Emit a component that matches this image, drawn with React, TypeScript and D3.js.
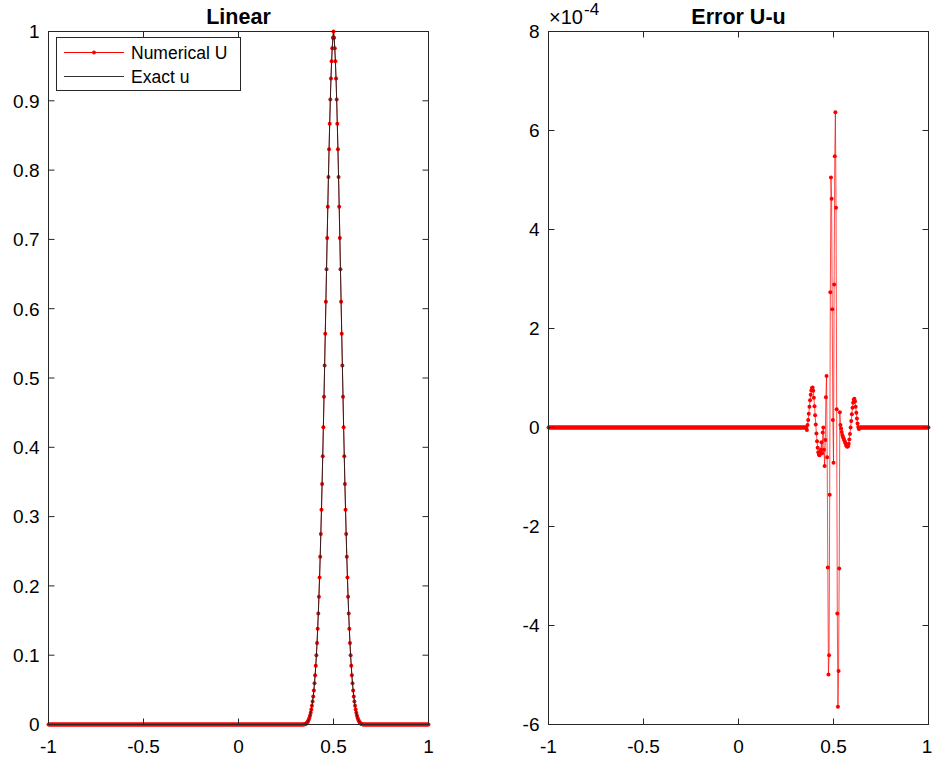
import React from 'react';
import * as d3 from 'd3';

// ---- data ----
const gridIntervals = 600; // grid on [-1, 1]
const peakIndex = 450; // grid index of x = 0.5
// u values, from the peak outwards (symmetric)
const uHalfProfile = [
  1.0, 0.991, 0.976, 0.957, 0.932, 0.902, 0.867, 0.83, 0.79, 0.747, 0.702, 0.657, 0.61, 0.564,
  0.518, 0.473, 0.429, 0.387, 0.347, 0.31, 0.275, 0.242, 0.212, 0.1845, 0.16, 0.138, 0.1175, 0.1,
  0.0848, 0.0712, 0.0597, 0.0491, 0.0405, 0.0332, 0.027, 0.0215, 0.017, 0.013, 0.0098, 0.0072,
  0.0052, 0.0036, 0.0024, 0.0015, 0.0009, 0.0005, 0.0002, 0.0001,
];
// error U-u (units of 1e-4), grid indices starting at errorStart
const errorStart = 407;
const errorCore = [
  0, -0.05, 0.05, 0.15, 0.28, 0.42, 0.55, 0.66, 0.75, 0.8, 0.81, 0.74, 0.6, 0.43, 0.25, 0.06,
  -0.12, -0.28, -0.41, -0.5, -0.55, -0.56, -0.52, -0.45, -0.3, -0.52, -0.1, 0.0, -0.45, -0.78,
  -0.25, 0.61, 1.04, -0.6, -2.83, -4.99, -4.6, -1.36, 2.73, 5.05, 4.62, 2.39, 0.15, -0.71, 2.89,
  5.48, 6.37, 4.44, 0.37, -3.76, -5.64, -4.92, -2.85, 0.31, 0.05, -0.02, -0.09, -0.15, -0.19,
  -0.22, -0.26, -0.29, -0.32, -0.36, -0.38, -0.39, -0.38, -0.33, -0.24, -0.13, 0.0, 0.13, 0.27,
  0.4, 0.5, 0.56, 0.58, 0.53, 0.42, 0.3, 0.18, 0.08, 0.01, -0.03, -0.02, 0,
];

const xTicks = [-1, -0.5, 0, 0.5, 1];
const leftYTicks = [0, 0.1, 0.2, 0.3, 0.4, 0.5, 0.6, 0.7, 0.8, 0.9, 1];
const rightYTicks = [-6, -4, -2, 0, 2, 4, 6, 8];
const titles = ['Linear', 'Error U-u'];
const legendLabels = ['Numerical U', 'Exact u'];

// ---- derived series ----
const xGrid = d3.range(gridIntervals + 1).map((i) => -1 + (2 * i) / gridIntervals);
const uValues = xGrid.map((_, i) => {
  const n = Math.abs(i - peakIndex);
  return n < uHalfProfile.length ? uHalfProfile[n] : 0;
});
const errValues = xGrid.map((_, i) => {
  const k = i - errorStart;
  return k >= 0 && k < errorCore.length ? errorCore[k] : 0;
});

const FONT = '"Liberation Sans", Arial, Helvetica, sans-serif';
const AXC = '#262626';
const TOP = 31.5;
const BOTTOM = 724.5;

type Pt = [number, number];

function Axes({
  x0,
  x1,
  yDomain,
  yTicks,
  title,
}: {
  x0: number;
  x1: number;
  yDomain: [number, number];
  yTicks: number[];
  title: string;
}) {
  const xs = d3.scaleLinear().domain([-1, 1]).range([x0, x1]);
  const ys = d3.scaleLinear().domain(yDomain).range([BOTTOM, TOP]);
  const tl = 6;
  return (
    <g>
      <rect x={x0} y={TOP} width={x1 - x0} height={BOTTOM - TOP} fill="none" stroke={AXC} strokeWidth={1} />
      {xTicks.map((t) => (
        <g key={'x' + t}>
          <line x1={xs(t)} x2={xs(t)} y1={BOTTOM} y2={BOTTOM - tl} stroke={AXC} />
          <line x1={xs(t)} x2={xs(t)} y1={TOP} y2={TOP + tl} stroke={AXC} />
          <text
            x={xs(t) + (t === 1 && x1 > 900 ? -1.5 : 0)}
            y={753}
            textAnchor="middle"
            fontSize={19}
            fontFamily={FONT}
            fill="#000"
          >
            {String(t)}
          </text>
        </g>
      ))}
      {yTicks.map((t) => (
        <g key={'y' + t}>
          <line x1={x0} x2={x0 + tl} y1={ys(t)} y2={ys(t)} stroke={AXC} />
          <line x1={x1} x2={x1 - tl} y1={ys(t)} y2={ys(t)} stroke={AXC} />
          <text
            x={x0 - 9}
            y={ys(t)}
            dy="0.36em"
            textAnchor="end"
            fontSize={19}
            fontFamily={FONT}
            fill="#000"
          >
            {String(t)}
          </text>
        </g>
      ))}
      <text
        x={(x0 + x1) / 2}
        y={24}
        textAnchor="middle"
        fontSize={21.5}
        fontWeight="bold"
        fontFamily={FONT}
        fill="#000"
      >
        {title}
      </text>
    </g>
  );
}

export default function App() {
  const xL = d3.scaleLinear().domain([-1, 1]).range([48.5, 428.5]);
  const yL = d3.scaleLinear().domain([0, 1]).range([BOTTOM, TOP]);
  const xR = d3.scaleLinear().domain([-1, 1]).range([548.5, 928.5]);
  const yR = d3.scaleLinear().domain([-6, 8]).range([BOTTOM, TOP]);

  const uPts: Pt[] = xGrid.map((x, i) => [xL(x), yL(uValues[i])]);
  const ePts: Pt[] = xGrid.map((x, i) => [xR(x), yR(errValues[i])]);
  const line = d3.line<Pt>();

  return (
    <svg
      width={932}
      height={761}
      style={{ position: 'absolute', left: 0, top: 0, background: '#fff' }}
    >
      <rect width={932} height={761} fill="#fff" />
      {/* left panel data */}
      <path d={line(uPts) || ''} fill="none" stroke="#ff0000" strokeWidth={0.8} />
      {uPts.map((p, i) => (
        <circle key={'u' + i} cx={p[0]} cy={p[1]} r={2} fill="#ff0000" />
      ))}
      <path d={line(uPts) || ''} fill="none" stroke="#1a1a1a" strokeWidth={0.9} />
      <Axes x0={48.5} x1={428.5} yDomain={[0, 1]} yTicks={leftYTicks} title={titles[0]} />

      {/* legend */}
      <g>
        <rect x={56.5} y={37.5} width={184} height={53} fill="#fff" stroke={AXC} strokeWidth={1} />
        <line x1={64} x2={124} y1={52.5} y2={52.5} stroke="#ff0000" strokeWidth={1} />
        <circle cx={94} cy={52.5} r={2} fill="#ff0000" />
        <text x={131} y={58.5} fontSize={17.5} fontFamily={FONT} fill="#000">
          {legendLabels[0]}
        </text>
        <line x1={64} x2={124} y1={76.5} y2={76.5} stroke="#333" strokeWidth={1} />
        <text x={131} y={82.5} fontSize={17.5} fontFamily={FONT} fill="#000">
          {legendLabels[1]}
        </text>
      </g>

      {/* right panel data */}
      <path d={line(ePts) || ''} fill="none" stroke="#ff0000" strokeWidth={0.7} />
      {ePts.map((p, i) => (
        <circle key={'e' + i} cx={p[0]} cy={p[1]} r={2} fill="#ff0000" />
      ))}
      <Axes x0={548.5} x1={928.5} yDomain={[-6, 8]} yTicks={rightYTicks} title={titles[1]} />
      <text x={549} y={24} fontSize={20} fontFamily={FONT} fill="#000">
        ×10
      </text>
      <text x={584} y={15} fontSize={17} fontFamily={FONT} fill="#000">
        -4
      </text>
    </svg>
  );
}
